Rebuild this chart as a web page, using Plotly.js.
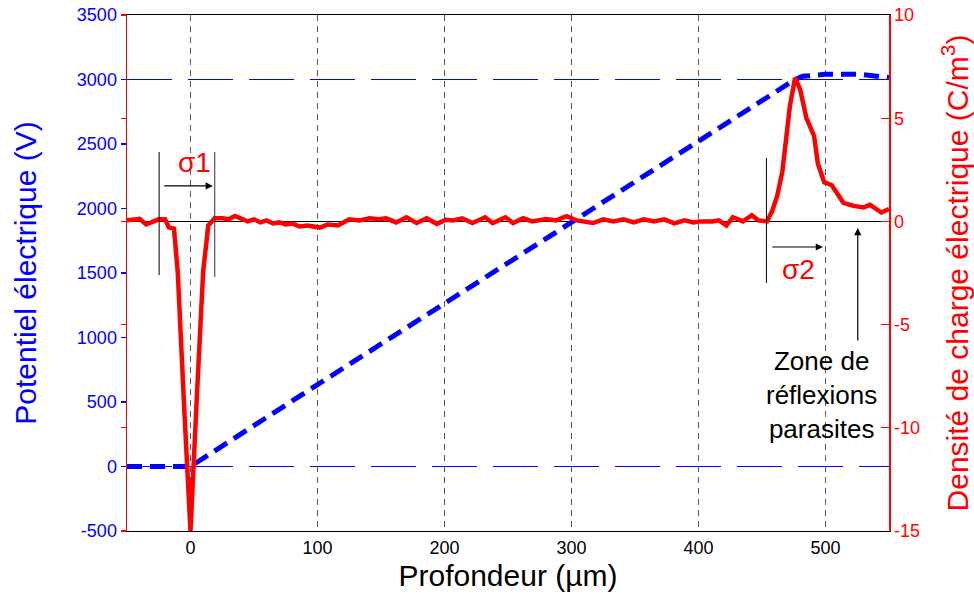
<!DOCTYPE html>
<html>
<head>
<meta charset="utf-8">
<script src="https://cdn.plot.ly/plotly-3.0.1.min.js"></script>
<style>html,body{margin:0;padding:0;background:#fff;}#chart{width:974px;height:599px;}</style>
</head>
<body>
<div id="chart"></div>
<script>
// Potential (V) versus depth (µm)
const depthV = [-50, 0, 100, 200, 300, 400, 454, 470, 476, 482, 490, 500, 527, 540, 550];
const potentialV = [0, 0, 635, 1265, 1895, 2525, 2860, 2960, 3000, 3025, 3036, 3040, 3040, 3025, 3015];

// Charge density (C/m3) versus depth (µm)
const depthQ = [-50, -45, -40, -35, -30, -25, -20, -17, -13, -10, -5, 0, 5, 10, 14, 19, 25, 30, 35, 40, 45, 50, 55, 60, 65, 70, 75, 80, 86, 92, 98, 102, 108, 116, 125, 133, 141, 148, 154, 162, 170, 178, 186, 194, 201, 207, 214, 222, 232, 238, 248, 254, 262, 269, 280, 288, 296, 304, 317, 325, 333, 341, 349, 357, 365, 373, 381, 389, 396, 401, 411, 416, 422, 427, 435, 442, 447, 454, 458, 462, 466, 469, 472, 476, 480, 485, 491, 494, 499, 505, 514, 522, 530, 535, 544, 550];
const chargeQ = [0.05, 0.1, 0.12, -0.15, -0.05, 0.1, 0.1, -0.3, -0.35, -2.5, -9.0, -15, -8.5, -2.4, -0.2, 0.15, 0.15, 0.1, 0.26, 0.15, 0.0, 0.1, -0.05, 0.05, -0.1, -0.05, -0.15, -0.1, -0.25, -0.2, -0.25, -0.3, -0.15, -0.2, 0.1, 0.05, 0.15, 0.1, 0.15, -0.05, 0.2, -0.08, 0.15, -0.12, 0.08, 0.05, 0.15, -0.08, 0.2, -0.08, 0.2, -0.08, 0.15, 0.0, 0.12, 0.05, 0.25, 0.05, -0.08, 0.1, 0.0, 0.1, -0.05, 0.1, 0.0, 0.1, -0.1, 0.05, -0.05, 0.0, 0.0, 0.05, -0.2, 0.2, 0.0, 0.3, 0.05, 0.0, 0.5, 1.25, 2.4, 4.2, 5.6, 6.95, 6.4, 5.0, 4.15, 2.8, 1.9, 1.75, 0.9, 0.75, 0.68, 0.8, 0.43, 0.6];

// Axis ranges and tick values
const xRange = [-50, 550];
const xTicks = [0, 100, 200, 300, 400, 500];
const vRange = [-500, 3500];
const vTicks = [-500, 0, 500, 1000, 1500, 2000, 2500, 3000, 3500];
const qRange = [-15, 10];
const qTicks = [-15, -10, -5, 0, 5, 10];
const vRefLines = [0, 3000];

const FONT = '"Liberation Sans", Arial, sans-serif';

const traces = [
  {x: depthV, y: potentialV, type: 'scatter', mode: 'lines', yaxis: 'y',
   line: {color: '#0000ff', width: 5, dash: '15px,8px'}, hoverinfo: 'skip'},
  {x: depthQ, y: chargeQ, type: 'scatter', mode: 'lines', yaxis: 'y2',
   line: {color: '#ff0000', width: 4.5}, hoverinfo: 'skip'}
];

const shapes = vRefLines.map(v => ({
  type: 'line', xref: 'paper', yref: 'y', x0: 0, x1: 1, y0: v, y1: v,
  line: {color: '#0000ff', width: 1.2, dash: '45px,16px'}, layer: 'below'
}));
// sigma markers
shapes.push({type: 'line', xref: 'x', yref: 'y2', x0: -24.7, x1: -24.7, y0: 3.36, y1: -2.6, line: {color: '#000', width: 1}});
shapes.push({type: 'line', xref: 'x', yref: 'y2', x0: 19.1, x1: 19.1, y0: 3.36, y1: -2.7, line: {color: '#333', width: 1}});
shapes.push({type: 'line', xref: 'x', yref: 'y2', x0: 453.5, x1: 453.5, y0: 3.07, y1: -2.98, line: {color: '#000', width: 1}});

const annotations = [
  {x: 17.6, y: 1.72, ax: -21.8, ay: 1.72, xref: 'x', yref: 'y2', axref: 'x', ayref: 'y2',
   text: '', showarrow: true, arrowhead: 2, arrowsize: 1.2, arrowwidth: 1.2, arrowcolor: '#000'},
  {x: 498, y: -1.24, ax: 457, ay: -1.24, xref: 'x', yref: 'y2', axref: 'x', ayref: 'y2',
   text: '', showarrow: true, arrowhead: 2, arrowsize: 1.2, arrowwidth: 1.2, arrowcolor: '#000'},
  {x: 525.4, y: -0.32, ax: 525.4, ay: -5.84, xref: 'x', yref: 'y2', axref: 'x', ayref: 'y2',
   text: '', showarrow: true, arrowhead: 2, arrowsize: 1.2, arrowwidth: 1.2, arrowcolor: '#000'},
  {x: 3.4, y: 2.83, xref: 'x', yref: 'y2', text: 'σ1', showarrow: false,
   font: {family: FONT, size: 28, color: '#ff0000'}},
  {x: 479, y: -2.35, xref: 'x', yref: 'y2', text: 'σ2', showarrow: false,
   font: {family: FONT, size: 28, color: '#ff0000'}},
  {x: 497, y: -8.4, xref: 'x', yref: 'y2', text: 'Zone de<br>réflexions<br>parasites', showarrow: false,
   align: 'center', font: {family: FONT, size: 26, color: '#000'}}
];

const layout = {
  width: 974, height: 599,
  margin: {l: 127, r: 85, t: 15, b: 68},
  paper_bgcolor: '#fff', plot_bgcolor: '#fff',
  showlegend: false,
  font: {family: FONT, size: 18, color: '#000'},
  xaxis: {
    range: xRange, tickvals: xTicks, ticktext: xTicks.map(String),
    showgrid: true, gridcolor: '#555', griddash: '6px,5px', gridwidth: 1,
    zeroline: false, showline: true, linecolor: '#000', linewidth: 1.2, mirror: true,
    ticks: '', tickfont: {family: FONT, size: 18, color: '#000'},
    title: {text: 'Profondeur (µm)', font: {family: FONT, size: 30, color: '#000'}, standoff: 8}
  },
  yaxis: {
    range: vRange, tickvals: vTicks, ticktext: vTicks.map(String),
    showgrid: false, zeroline: false, showline: true, linecolor: '#ff0000', linewidth: 1.5,
    ticks: 'outside', ticklen: 5, tickcolor: '#0000ff', tickwidth: 1.2,
    tickfont: {family: FONT, size: 18, color: '#0000ff'},
    title: {text: 'Potentiel électrique (V)', font: {family: FONT, size: 30, color: '#0000ff'}, standoff: 31}
  },
  yaxis2: {
    range: qRange, tickvals: qTicks, ticktext: qTicks.map(String), overlaying: 'y', side: 'right',
    showgrid: false, zeroline: true, zerolinecolor: '#000', zerolinewidth: 1.3,
    showline: true, linecolor: '#ff0000', linewidth: 1.5,
    ticks: 'inside', ticklen: 8, tickcolor: '#ff0000', tickwidth: 1.2,
    tickfont: {family: FONT, size: 18, color: '#ff0000'},
    title: {text: 'Densité de charge électrique (C/m<sup>3</sup>)', font: {family: FONT, size: 30, color: '#ff0000'}, standoff: 28}
  },
  yaxis3: {
    range: qRange, tickvals: qTicks, overlaying: 'y', side: 'left',
    showgrid: false, zeroline: false, showline: false, showticklabels: false,
    ticks: 'outside', ticklen: 5, tickcolor: '#ff0000', tickwidth: 1.2
  },
  shapes: shapes,
  annotations: annotations
};

// invisible point so the mirrored red tick axis is drawn
traces.push({x: [xRange[0]], y: [qRange[0]], yaxis: 'y3', type: 'scatter', mode: 'markers',
  marker: {opacity: 0}, hoverinfo: 'skip'});

Plotly.newPlot('chart', traces, layout, {staticPlot: true, displayModeBar: false});
</script>
</body>
</html>
